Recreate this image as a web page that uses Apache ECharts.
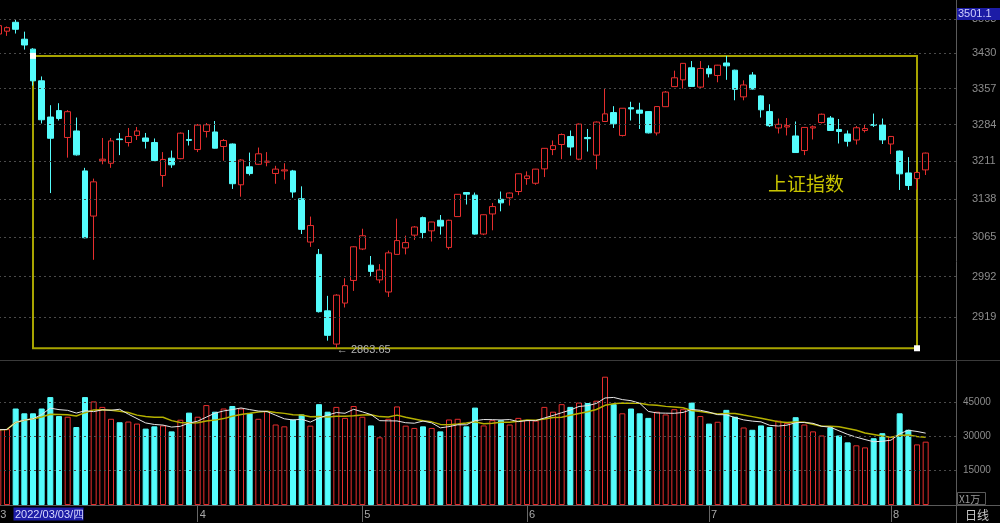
<!DOCTYPE html>
<html><head><meta charset="utf-8">
<script src="https://cdn.jsdelivr.net/npm/echarts@6/dist/echarts.min.js"></script>
<style>html,body{margin:0;padding:0;background:#000;overflow:hidden;width:1000px;height:523px;position:relative;}
#c{position:absolute;left:-6px;top:0;width:1006px;height:523px;}</style>
</head><body><div id="c"></div>
<script>
const dates = [
'2022-03-01','2022-03-02','2022-03-03','2022-03-04','2022-03-07','2022-03-08','2022-03-09','2022-03-10','2022-03-11','2022-03-14',
'2022-03-15','2022-03-16','2022-03-17','2022-03-18','2022-03-21','2022-03-22','2022-03-23','2022-03-24','2022-03-25','2022-03-28',
'2022-03-29','2022-03-30','2022-03-31','2022-04-01','2022-04-06','2022-04-07','2022-04-08','2022-04-11','2022-04-12','2022-04-13',
'2022-04-14','2022-04-15','2022-04-18','2022-04-19','2022-04-20','2022-04-21','2022-04-22','2022-04-25','2022-04-26','2022-04-27',
'2022-04-28','2022-04-29','2022-05-05','2022-05-06','2022-05-09','2022-05-10','2022-05-11','2022-05-12','2022-05-13','2022-05-16',
'2022-05-17','2022-05-18','2022-05-19','2022-05-20','2022-05-23','2022-05-24','2022-05-25','2022-05-26','2022-05-27','2022-05-30',
'2022-05-31','2022-06-01','2022-06-02','2022-06-06','2022-06-07','2022-06-08','2022-06-09','2022-06-10','2022-06-13','2022-06-14',
'2022-06-15','2022-06-16','2022-06-17','2022-06-20','2022-06-21','2022-06-22','2022-06-23','2022-06-24','2022-06-27','2022-06-28',
'2022-06-29','2022-06-30','2022-07-01','2022-07-04','2022-07-05','2022-07-06','2022-07-07','2022-07-08','2022-07-11','2022-07-12',
'2022-07-13','2022-07-14','2022-07-15','2022-07-18','2022-07-19','2022-07-20','2022-07-21','2022-07-22','2022-07-25','2022-07-26',
'2022-07-27','2022-07-28','2022-07-29','2022-08-01','2022-08-02','2022-08-03','2022-08-04','2022-08-05'];

const openP = [
3471,3477,3496,3460,3439,3373,3299,3312,3258,3271,
3192,3105,3212,3207,3255,3248,3262,3257,3248,3183,
3217,3216,3254,3234,3270,3269,3240,3245,3165,3200,
3205,3209,3187,3192,3192,3138,3056,3033,2930,2871,
2944,2985,3043,3013,2986,2964,3033,3045,3069,3102,
3077,3097,3046,3104,3150,3145,3071,3109,3137,3140,
3152,3177,3168,3196,3234,3244,3260,3215,3258,3223,
3290,3308,3262,3318,3313,3310,3267,3320,3361,3375,
3400,3360,3398,3384,3410,3395,3340,3385,3342,3310,
3277,3279,3261,3232,3277,3288,3297,3274,3265,3253,
3272,3284,3283,3245,3231,3188,3177,3194];

const closeP = [
3488.8,3484.5,3481.0,3447.7,3372.9,3293.5,3256.4,3296.1,3309.8,3223.5,
3064.0,3170.7,3215.0,3251.1,3253.7,3259.9,3271.0,3250.3,3212.2,3214.5,
3203.9,3266.6,3252.2,3282.7,3283.4,3236.7,3251.9,3167.1,3213.3,3186.8,
3225.6,3211.2,3195.5,3194.0,3151.0,3079.8,3087.0,2928.5,2886.4,2958.3,
2975.5,3047.1,3067.8,3001.6,3004.1,3035.8,3058.7,3055.0,3084.3,3073.8,
3093.7,3086.0,3097.0,3146.6,3146.9,3070.9,3107.5,3123.1,3130.2,3149.1,
3186.4,3182.2,3195.5,3236.4,3241.8,3263.8,3239.0,3284.8,3255.6,3288.9,
3305.4,3285.4,3316.8,3315.4,3306.7,3267.2,3320.2,3349.8,3379.2,3409.2,
3361.5,3398.6,3387.6,3405.4,3404.0,3355.4,3364.4,3356.1,3313.6,3281.5,
3284.3,3281.7,3228.1,3278.1,3279.4,3304.7,3272.0,3270.0,3250.4,3277.4,
3275.8,3282.6,3253.2,3260.0,3186.3,3163.7,3189.0,3227.0];

const lowP = [
3466,3467,3472,3438,3363,3286,3149,3292,3218,3222,
3063,3023,3205,3198,3223,3240,3253,3236,3211,3161,
3198,3215,3242,3229,3258,3236,3212,3157,3142,3183,
3204,3201,3167,3175,3140,3071,3047,2927,2877,2863.65,
2936,2966,3041,2992,2980,2955,3033,3033,3060,3063,
3057,3070,3042,3104,3127,3070,3069,3078,3114,3125,
3145,3165,3165,3180,3223,3215,3222,3213,3230,3195,
3290,3277,3260,3292,3275,3266,3262,3320,3361,3357,
3361,3358,3380,3370,3375,3333,3333,3355,3298,3279,
3266,3262,3228,3223,3254,3286,3271,3246,3240,3244,
3268,3279,3245,3225,3155,3155,3156,3184];

const highP = [
3490,3487,3501.1,3476,3441,3382,3323,3327,3313,3298,
3198,3177,3257,3257,3267,3277,3279,3267,3256,3229,
3232,3268,3273,3285,3287,3291,3255,3246,3215,3228,
3238,3229,3202,3207,3194,3162,3104,3043,2957,2960,
2989,3048,3081,3030,3015,3040,3100,3068,3086,3104,
3094,3107,3098,3147,3151,3150,3108,3130,3152,3150,
3187,3191,3196,3237,3252,3266,3272,3286,3275,3290,
3358,3321,3317,3330,3328,3311,3321,3352,3394,3410,
3414,3414,3405,3406,3424.84,3396,3374,3391,3343,3325,
3296,3297,3290,3279,3282,3306,3301,3295,3272,3281,
3283,3306,3296,3261,3232,3219,3190,3228];

const volume = [
32900,33200,42200,40100,40100,42200,47200,38900,38600,34100,
47200,45300,42900,37700,36200,36500,35600,33400,34400,34800,
32200,37300,40400,38600,43700,40800,42200,43300,42200,40100,
37700,41100,35200,34400,37400,39600,34700,44100,40800,42900,
38100,43300,38600,34800,29600,37700,43100,34700,33700,34400,
33700,32200,37400,37700,34400,42600,34800,37100,37100,35200,
38100,37100,36900,42900,40800,44100,42900,44800,44600,45600,
56100,44100,40100,42200,40100,38100,40800,39600,41900,41900,
44800,38900,35600,36400,41600,38600,33900,32900,34800,34100,
36900,35900,38400,35200,32200,30400,34000,30400,27400,26100,
25200,29200,31400,29900,40100,32900,26500,27700];

const priceTicks = [3503, 3430, 3357, 3284, 3211, 3138, 3065, 2992, 2919];
const volTicks = [15000, 30000, 45000];
const lowLabel = 2863.65;
const boxTop = 3424.84;
const boxStartIdx = 4, boxEndIdx = 106, lowIdx = 39;
const cursorDate = '2022/03/03/四';
const indexName = '上证指数';

const UP = '#e62e2e', DOWN = '#54fcfc';
const candleData = dates.map((d, i) => [openP[i], closeP[i], lowP[i], highP[i]]);
const volData = volume.map((v, i) => ({
  value: v,
  itemStyle: closeP[i] >= openP[i]
    ? { color: '#000', borderColor: UP, borderWidth: 1 }
    : { color: DOWN, borderColor: DOWN, borderWidth: 1 }
}));
function ma(n) {
  return volume.map((v, i) => {
    const s = Math.max(0, i - n + 1);
    let sum = 0;
    for (let j = s; j <= i; j++) sum += volume[j];
    return Math.round(sum / (i - s + 1));
  });
}
const monthStart = dates.map((d, i) => i === 0 || d.slice(5, 7) !== dates[i - 1].slice(5, 7));
const isMonthStart = (idx) => idx < dates.length && monthStart[idx];
const maxHigh = Math.max(...highP).toFixed(1);

const OX = 6; // container is shifted 6px left
const gridWidth = 962;
const dotted = { type: [2, 3], color: '#4a4a4a', width: 1 };
const FONT = 'Liberation Sans, Arial, sans-serif';

const chart = echarts.init(document.getElementById('c'), null, { renderer: 'canvas' });
chart.setOption({
  backgroundColor: '#000',
  animation: false,
  grid: [
    { left: 0, width: gridWidth, top: 0, height: 352 },
    { left: 0, width: gridWidth, top: 358.65, height: 146.35 }
  ],
  xAxis: [
    { type: 'category', gridIndex: 0, data: dates, max: 110, boundaryGap: true, show: false },
    { type: 'category', gridIndex: 1, data: dates, max: 110, boundaryGap: true,
      axisLine: { show: false },
      axisTick: { show: true, interval: isMonthStart, alignWithLabel: true, length: 17, lineStyle: { color: '#666' } },
      axisLabel: { show: true, interval: isMonthStart, align: 'left', margin: 4, padding: [0, 0, 0, 2],
        color: '#a8a8a8', fontSize: 11, fontFamily: FONT,
        formatter: (v) => String(parseInt(v.slice(5, 7), 10)) },
      splitLine: { show: false } }
  ],
  yAxis: [
    { type: 'log', logBase: 10, gridIndex: 0, min: 2857.1, max: 3544.0, show: false, splitLine: { show: false } },
    { type: 'value', gridIndex: 1, min: 0, max: 64000, show: false, splitLine: { show: false } }
  ],
  series: [
    {
      type: 'candlestick', xAxisIndex: 0, yAxisIndex: 0, data: candleData, barWidth: 6,
      itemStyle: { color: '#000', color0: DOWN, borderColor: UP, borderColor0: DOWN, borderWidth: 1 },
      markLine: {
        silent: true, symbol: ['none', 'none'], animation: false,
        lineStyle: dotted,
        label: { show: true, position: 'end', distance: 16, color: '#8c8c8c', fontSize: 11, fontFamily: FONT,
          formatter: (p) => String(p.value) },
        data: priceTicks.map(v => ({ yAxis: v }))
      },
      markArea: {
        silent: true,
        itemStyle: { color: 'rgba(0,0,0,0)', borderColor: '#a8a400', borderWidth: 2 },
        data: [[{ coord: [boxStartIdx, boxTop] }, { coord: [boxEndIdx, lowLabel] }]]
      },
      markPoint: {
        silent: true, animation: false,
        data: [
          { coord: [boxStartIdx, boxTop], symbol: 'rect', symbolSize: 6, itemStyle: { color: '#fff' }, label: { show: false } },
          { coord: [boxEndIdx, lowLabel], symbol: 'rect', symbolSize: 6, itemStyle: { color: '#fff' }, label: { show: false } },
          { coord: [lowIdx, lowLabel], symbol: 'rect', symbolSize: 1, itemStyle: { color: 'rgba(0,0,0,0)' },
            label: { show: true, position: 'right', distance: 0, offset: [0, 2], color: '#b4b4b4', fontSize: 11, fontFamily: FONT,
              formatter: '← ' + lowLabel.toFixed(2) } }
        ]
      }
    },
    {
      type: 'bar', xAxisIndex: 1, yAxisIndex: 1, data: volData, barWidth: 6,
      markLine: {
        silent: true, symbol: ['none', 'none'], animation: false,
        lineStyle: dotted,
        label: { show: true, position: 'end', distance: 7, color: '#8c8c8c', fontSize: 10, fontFamily: FONT,
          formatter: (p) => String(p.value) },
        data: volTicks.map(v => ({ yAxis: v }))
      }
    },
    { type: 'line', xAxisIndex: 1, yAxisIndex: 1, data: ma(10), symbol: 'none', smooth: false,
      lineStyle: { color: '#b4b000', width: 1.5 } },
    { type: 'line', xAxisIndex: 1, yAxisIndex: 1, data: ma(5), symbol: 'none', smooth: false,
      lineStyle: { color: '#e6e6e6', width: 1 } }
  ],
  graphic: [
    { type: 'line', z: 50, shape: { x1: OX + 956.5, y1: 0, x2: OX + 956.5, y2: 523 }, style: { stroke: '#5a5a5a', lineWidth: 1 } },
    { type: 'line', z: 50, shape: { x1: 0, y1: 360.5, x2: OX + 1000, y2: 360.5 }, style: { stroke: '#3a3a3a', lineWidth: 1 } },
    { type: 'line', z: 50, shape: { x1: 0, y1: 505.5, x2: OX + 1000, y2: 505.5 }, style: { stroke: '#5a5a5a', lineWidth: 1 } },
    { type: 'rect', z: 60, shape: { x: OX + 957, y: 8, width: 43, height: 12 }, style: { fill: '#1c1ca6' } },
    { type: 'text', z: 61, x: OX + 958, y: 14, style: { text: maxHigh, fill: '#d0d0ff', font: '11px ' + FONT, textVerticalAlign: 'middle' } },
    { type: 'rect', z: 60, shape: { x: OX + 13.5, y: 507.5, width: 70, height: 13 }, style: { fill: '#1c1ca6' } },
    { type: 'text', z: 61, x: OX + 15, y: 514.5, style: { text: cursorDate, fill: '#d8d8ff', font: '11px ' + FONT, textVerticalAlign: 'middle' } },
    { type: 'rect', z: 60, shape: { x: OX + 957.5, y: 492.5, width: 28, height: 12 }, style: { fill: '#000', stroke: '#5a5a5a', lineWidth: 1 } },
    { type: 'text', z: 61, x: OX + 959, y: 499, style: { text: 'X1万', fill: '#9a9a9a', font: '10px "Noto Sans CJK SC", sans-serif', textVerticalAlign: 'middle' } },
    { type: 'text', z: 61, x: OX + 965, y: 515, style: { text: '日线', fill: '#c8c8c8', font: '12px "Noto Sans CJK SC", sans-serif', textVerticalAlign: 'middle' } },
    { type: 'text', z: 61, x: OX + 768, y: 184, style: { text: indexName, fill: '#c8c400', font: '19px "Noto Sans CJK SC", sans-serif', textVerticalAlign: 'middle' } }
  ]
});
</script>
</body></html>
